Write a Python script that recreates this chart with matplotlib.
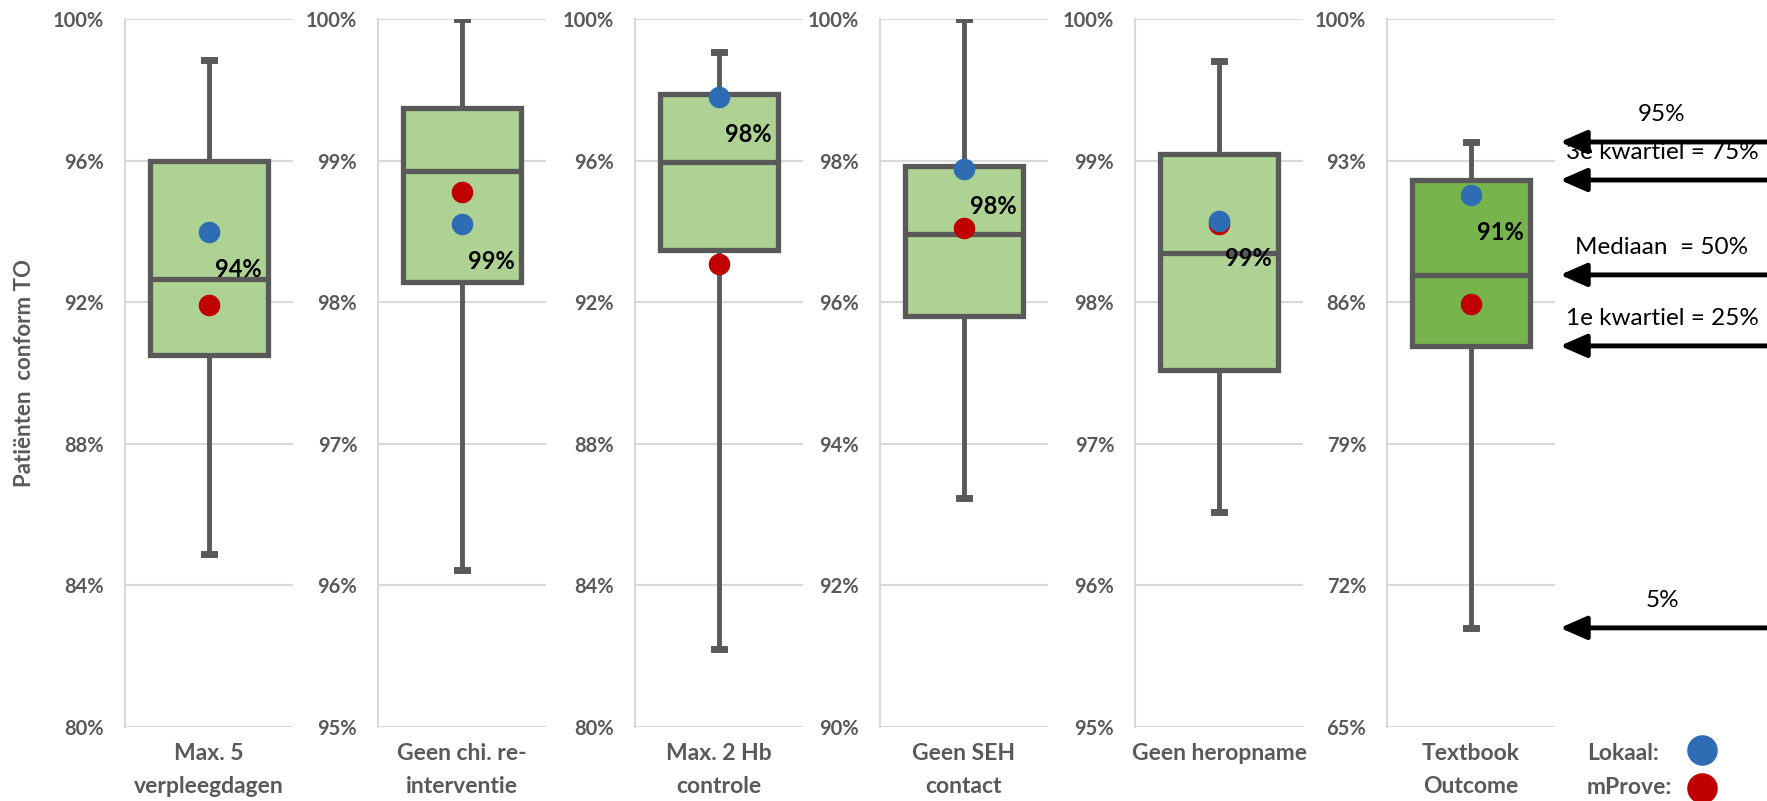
import numpy as np
import matplotlib
matplotlib.use("Agg")
import matplotlib.pyplot as plt
from matplotlib.ticker import FixedLocator

plt.rcParams['font.family'] = ['Lato', 'DejaVu Sans']

# indicator categories
categories = ["Max. 5\nverpleegdagen", "Geen chi. re-\ninterventie", "Max. 2 Hb\ncontrole",
              "Geen SEH\ncontact", "Geen heropname", "Textbook\nOutcome"]

# box plot statistics (percent)
p5 = [84.9, 96.11, 82.2, 93.23, 96.52, 69.9]
q1 = [90.5, 98.14, 93.47, 95.8, 97.52, 83.84]
med = [92.66, 98.93, 95.96, 96.96, 98.35, 87.35]
q3 = [96.0, 99.37, 97.88, 97.92, 99.05, 92.04]
p95 = [98.84, 100.0, 99.07, 100.0, 99.70, 93.92]

lokaal = [93.98, 98.55, 97.8, 97.88, 98.57, 91.3]
mprove = [91.92, 98.78, 93.08, 97.05, 98.55, 85.91]

# axis ranges per panel
ymin = [80, 95, 80, 90, 95, 65]
ystep = [4, 1, 4, 2, 1, 7]

# labels for arrows on the right
arrow_labels = ["95%", "3e kwartiel = 75%", "Mediaan  = 50%", "1e kwartiel = 25%", "5%"]

GRAY = "#595959"
GRID = "#D9D9D9"
BLUE = "#2E6DB4"
RED = "#C00000"
box_colors = ["#AED293"] * 5 + ["#77B44C"]

W, H = 1767, 801
fig = plt.figure(figsize=(W / 100, H / 100), dpi=100)

lefts = [125, 378, 635, 880, 1135, 1387]
pw = 168
top_px, bot_px = 19, 727

axes = []
for i in range(6):
    ax = fig.add_axes([lefts[i] / W, (H - bot_px) / H, pw / W, (bot_px - top_px) / H])
    axes.append(ax)
    stats = [dict(med=med[i], q1=q1[i], q3=q3[i], whislo=p5[i], whishi=p95[i], fliers=[])]
    bp = ax.bxp(stats, positions=[1], widths=0.7, patch_artist=True, showfliers=False,
                capwidths=0.06,
                boxprops=dict(facecolor=box_colors[i], edgecolor=GRAY, linewidth=3.8),
                medianprops=dict(color=GRAY, linewidth=3.8),
                whiskerprops=dict(color=GRAY, linewidth=3.5),
                capprops=dict(color=GRAY, linewidth=5))
    for art in bp['boxes'] + bp['medians'] + bp['whiskers'] + bp['caps']:
        art.set_zorder(3)
    ax.plot(1, mprove[i], 'o', color=RED, markersize=14.5, zorder=5)
    ax.plot(1, lokaal[i], 'o', color=BLUE, markersize=14.5, zorder=6)
    ax.annotate(f"{round(lokaal[i])}%", xy=(1, lokaal[i]), xytext=(21, -27),
                textcoords='offset points', ha='center', va='center',
                fontsize=17, fontweight='bold', color='black', zorder=7)

    ax.set_xlim(0.5, 1.5)
    ax.set_ylim(ymin[i], 100)
    ticks = np.arange(ymin[i], 100.01, ystep[i])
    ax.yaxis.set_major_locator(FixedLocator(ticks))
    ax.set_yticklabels([f"{int(round(t))}%" for t in ticks])
    ax.set_xticks([])
    ax.text(0.5, -0.022, categories[i], transform=ax.transAxes, ha='center', va='top',
            linespacing=1.75, fontsize=16.5, fontweight='bold', color=GRAY)
    ax.tick_params(axis='y', length=0, pad=15, labelsize=14.5, labelcolor=GRAY)
    for lab in ax.get_yticklabels():
        lab.set_fontweight('bold')
    ax.grid(axis='y', color=GRID, linewidth=1.5, zorder=0)
    ax.set_axisbelow(True)
    for s in ['top', 'right', 'bottom']:
        ax.spines[s].set_visible(False)
    ax.spines['left'].set_color(GRID)
    ax.spines['left'].set_linewidth(1.5)

fig.text(25 / W, 1 - 373 / H, "Patiënten  conform TO", rotation=90, ha='center', va='center',
         fontsize=16, fontweight='bold', color=GRAY)

# explanation arrows next to the last panel
ax6 = axes[-1]
arrow_vals = [p95[5], q3[5], med[5], q1[5], p5[5]]
for lab, v in zip(arrow_labels, arrow_vals):
    ax6.annotate("", xy=(1560 / W, v), xytext=(1.0, v),
                 xycoords=('figure fraction', 'data'), textcoords=('figure fraction', 'data'),
                 arrowprops=dict(arrowstyle='-|>,head_length=0.8,head_width=0.35',
                                 color='black', lw=3.5, shrinkA=0, shrinkB=0,
                                 mutation_scale=20), annotation_clip=False)
    ax6.annotate(lab, xy=(1662 / W, v), xycoords=('figure fraction', 'data'),
                 xytext=(0, 20), textcoords='offset points', ha='center', va='center',
                 fontsize=17.5, color='black', annotation_clip=False)

# legend
fig.text(1587 / W, 1 - 753 / H, "Lokaal:", ha='left', va='center', fontsize=16.5,
         fontweight='bold', color=GRAY)
fig.text(1587 / W, 1 - 788 / H, "mProve:", ha='left', va='center', fontsize=16.5,
         fontweight='bold', color=GRAY)
fig.add_artist(plt.Line2D([1702 / W], [1 - 750 / H], marker='o', color=BLUE,
                          markersize=21, transform=fig.transFigure))
fig.add_artist(plt.Line2D([1702 / W], [1 - 788 / H], marker='o', color=RED,
                          markersize=21, transform=fig.transFigure))

fig.savefig("out.png", dpi=100)
